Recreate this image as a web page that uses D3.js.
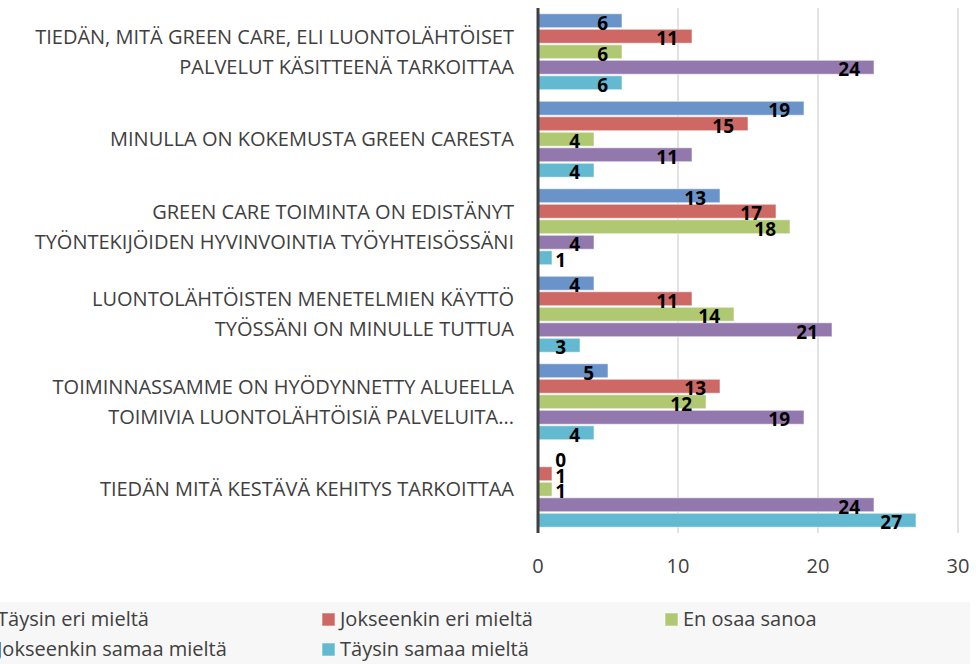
<!DOCTYPE html>
<html>
<head>
<meta charset="utf-8">
<script src="https://cdn.jsdelivr.net/npm/d3@7"></script>
<style>
  body { margin: 0; background: #fff; }
  svg { display: block; font-family: "Open Sans", sans-serif; }
</style>
</head>
<body>
<div id="chart"></div>
<script>
var categories = [
  ["TIEDÄN, MITÄ GREEN CARE, ELI LUONTOLÄHTÖISET", "PALVELUT KÄSITTEENÄ TARKOITTAA"],
  ["MINULLA ON KOKEMUSTA GREEN CARESTA"],
  ["GREEN CARE TOIMINTA ON EDISTÄNYT", "TYÖNTEKIJÖIDEN HYVINVOINTIA TYÖYHTEISÖSSÄNI"],
  ["LUONTOLÄHTÖISTEN MENETELMIEN KÄYTTÖ", "TYÖSSÄNI ON MINULLE TUTTUA"],
  ["TOIMINNASSAMME ON HYÖDYNNETTY ALUEELLA", "TOIMIVIA LUONTOLÄHTÖISIÄ PALVELUITA..."],
  ["TIEDÄN MITÄ KESTÄVÄ KEHITYS TARKOITTAA"]
];
var seriesNames = ["Täysin eri mieltä", "Jokseenkin eri mieltä", "En osaa sanoa", "Jokseenkin samaa mieltä", "Täysin samaa mieltä"];
var seriesColors = ["#6a93c9", "#cd6865", "#b0c872", "#9378ad", "#63b9d0"];
// one row per category, one value per series
var values = [
  [6, 11, 6, 24, 6],
  [19, 15, 4, 11, 4],
  [13, 17, 18, 4, 1],
  [4, 11, 14, 21, 3],
  [5, 13, 12, 19, 4],
  [0, 1, 1, 24, 27]
];
var xTicks = [0, 10, 20, 30];

var W = 976, H = 664;
var plotLeft = 538, plotRight = 958, plotTop = 8, plotBottom = 533;

var svg = d3.select('#chart').append('svg').attr('width', W).attr('height', H);

var x = d3.scaleLinear().domain([0, 30]).range([plotLeft, plotRight]);
var y0 = d3.scaleBand().domain(d3.range(categories.length))
  .range([plotTop, plotBottom]).paddingInner(0.114).paddingOuter(0.057);
var y1 = d3.scaleBand().domain(d3.range(seriesNames.length))
  .range([0, y0.bandwidth()]).paddingInner(0.1).paddingOuter(0.05);

// gridlines
svg.append('g').selectAll('line').data(xTicks.slice(1)).enter().append('line')
  .attr('x1', function(d) { return x(d); }).attr('x2', function(d) { return x(d); })
  .attr('y1', plotTop).attr('y2', plotBottom)
  .attr('stroke', '#cfcfcf').attr('stroke-width', 1.2);

// bars
var groups = svg.append('g').selectAll('g').data(values).enter().append('g')
  .attr('transform', function(d, i) { return 'translate(0,' + y0(i) + ')'; });

groups.selectAll('rect').data(function(d) { return d; }).enter().append('rect')
  .attr('x', x(0))
  .attr('y', function(d, j) { return y1(j); })
  .attr('width', function(d) { return x(d) - x(0); })
  .attr('height', y1.bandwidth())
  .attr('fill', function(d, j) { return seriesColors[j]; })
  .attr('stroke', 'rgba(255,255,255,0.55)')
  .attr('stroke-width', 1);

groups.selectAll('text').data(function(d) { return d; }).enter().append('text')
  .attr('x', function(d) { return Math.max(x(d) - 14, x(0) + 28); })
  .attr('y', function(d, j) { return y1(j) + y1.bandwidth() + 2; })
  .attr('text-anchor', 'end')
  .attr('font-size', 19).attr('font-weight', 'bold').attr('fill', '#000')
  .text(function(d) { return d; });

// value axis line
svg.append('line')
  .attr('x1', x(0)).attr('x2', x(0)).attr('y1', plotTop).attr('y2', plotBottom)
  .attr('stroke', '#404040').attr('stroke-width', 3);

// tick labels
svg.append('g').selectAll('text').data(xTicks).enter().append('text')
  .attr('x', function(d) { return x(d); }).attr('y', 573)
  .attr('text-anchor', 'middle').attr('font-size', 20).attr('fill', '#404040')
  .text(function(d) { return d; });

// category labels
var catLabels = svg.append('g').selectAll('text').data(categories).enter().append('text')
  .attr('text-anchor', 'end').attr('font-size', 20).attr('fill', '#404040')
  .attr('transform', function(d, i) {
    return 'translate(514,' + (y0(i) + y0.bandwidth() / 2) + ')';
  });
catLabels.selectAll('tspan').data(function(d) {
  return d.map(function(t, k) { return { t: t, dy: (k - (d.length - 1) / 2) * 30 }; });
}).enter().append('tspan')
  .attr('x', 0).attr('y', function(d) { return d.dy + 7; })
  .text(function(d) { return d.t; });

// legend (first column is cut off by the left edge, as in the original)
svg.append('rect').attr('x', 0).attr('y', 602).attr('width', 970).attr('height', 62).attr('fill', '#f7f7f7');
var legend = svg.append('g').selectAll('g').data(seriesNames).enter().append('g')
  .attr('transform', function(d, i) {
    return 'translate(' + (-3 + (i % 3) * 343) + ',' + (619 + Math.floor(i / 3) * 30) + ')';
  });
legend.append('rect').attr('x', -18).attr('y', -6).attr('width', 13).attr('height', 13)
  .attr('fill', function(d, i) { return seriesColors[i]; })
  .attr('stroke', 'rgba(255,255,255,0.55)');
legend.append('text').attr('x', 0).attr('y', 7).attr('font-size', 20).attr('fill', '#404040')
  .text(function(d) { return d; });
</script>
</body>
</html>
